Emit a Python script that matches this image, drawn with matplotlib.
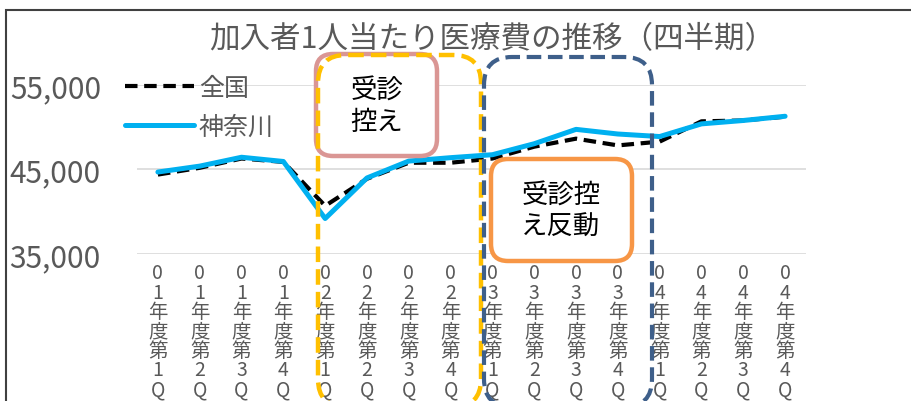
import matplotlib
matplotlib.use("Agg")
import matplotlib.pyplot as plt
from matplotlib.patches import FancyBboxPatch, Rectangle
import numpy as np

plt.rcParams['font.family'] = ['Noto Sans CJK JP', 'DejaVu Sans']

# ---- data ----
categories = [f"0{y}年度第{q}Q" for y in (1, 2, 3, 4) for q in (1, 2, 3, 4)]
zenkoku = [44400, 45200, 46300, 45900, 40700, 43900, 45800, 45800,
           46300, 47700, 48650, 47850, 48300, 50700, 50800, 51250]
kanagawa = [44700, 45400, 46450, 45950, 39200, 44000, 46000, 46400,
            46750, 48050, 49750, 49200, 48900, 50400, 50800, 51300]
yticks = [35000, 45000, 55000]
title = "加入者1人当たり医療費の推移（四半期）"
series_names = ["全国", "神奈川"]
box1_text = "受診\n控え"
box2_text = "受診控\nえ反動"

W, H = 911, 402
fig = plt.figure(figsize=(W / 100, H / 100), dpi=100)

def fx(px):
    return px / W

def fy(py):
    return 1 - py / H

ax = fig.add_axes([fx(137), fy(255), fx(806) - fx(137), fy(86) - fy(255)])
x = np.arange(len(categories))
ax.plot(x, zenkoku, color="black", lw=3.0, linestyle=(0, (3, 1.6)),
        label=series_names[0], zorder=3)
ax.plot(x, kanagawa, color="#00B0F0", lw=3.6, label=series_names[1],
        zorder=4, solid_capstyle="round")
ax.set_xlim(-0.5, len(categories) - 0.5)
ax.set_ylim(35000, 55000)
ax.set_yticks(yticks)
ax.set_yticklabels([f"{v:,}" for v in yticks], fontsize=21.5, color="#595959")
ax.yaxis.grid(True, color="#D9D9D9", lw=1.2)
ax.set_axisbelow(True)
ax.set_xticks(x)
ax.set_xticklabels(["\n".join(c) for c in categories], fontsize=14,
                   color="#595959", linespacing=0.9, va="top")
ax.tick_params(axis="both", length=0)
ax.tick_params(axis="x", pad=6)
ax.tick_params(axis="y", pad=26)
for s in ax.spines.values():
    s.set_visible(False)

leg = ax.legend(loc="upper left", bbox_to_anchor=(fx(125), fy(76)),
                bbox_transform=fig.transFigure, frameon=False, fontsize=18,
                handlelength=2.75, handletextpad=0.2, labelspacing=0.5,
                borderpad=0, borderaxespad=0)
for t in leg.get_texts():
    t.set_color("#595959")

# title
fig.text(fx(492), fy(40), title, ha="center", va="center", fontsize=22,
         color="#595959")

# annotation boxes (pixel -> inch transform)
tr = fig.dpi_scale_trans

def rbox(x0, y0, x1, y1, ec, lw, ls="-", r=0.2, fc="none", z=5):
    p = FancyBboxPatch((x0 / 100, (H - y1) / 100), (x1 - x0) / 100, (y1 - y0) / 100,
                       boxstyle=f"round,pad=0,rounding_size={r}",
                       transform=tr, ec=ec, fc=fc, lw=lw, linestyle=ls,
                       zorder=z, clip_on=False)
    fig.add_artist(p)

rbox(316, 55, 437, 157, "#DA9694", 3.2, r=0.17, fc="white", z=5)
rbox(318, 56, 481, 408, "#FFC000", 3.2, ls=(0, (3.5, 1.6)), r=0.28, z=6)
rbox(484, 58, 652, 408, "#3E5F8A", 3.0, ls=(0, (3.5, 1.6)), r=0.28, z=6)
rbox(491, 160, 632, 262, "#F79646", 3.2, r=0.17, fc="white", z=7)

fig.text(fx(377), fy(107), box1_text, ha="center", va="center", fontsize=19,
         color="black", linespacing=1.2, zorder=8)
fig.text(fx(561), fy(212), box2_text, ha="center", va="center", fontsize=19,
         color="black", linespacing=1.2, zorder=8)

# outer chart border (cropped)
fig.add_artist(Rectangle((6 / 100, -1), 20, (H - 11) / 100 + 1, transform=tr,
                         fill=False, ec="#404040", lw=1.5, zorder=10))

fig.savefig("out.png", dpi=100)
